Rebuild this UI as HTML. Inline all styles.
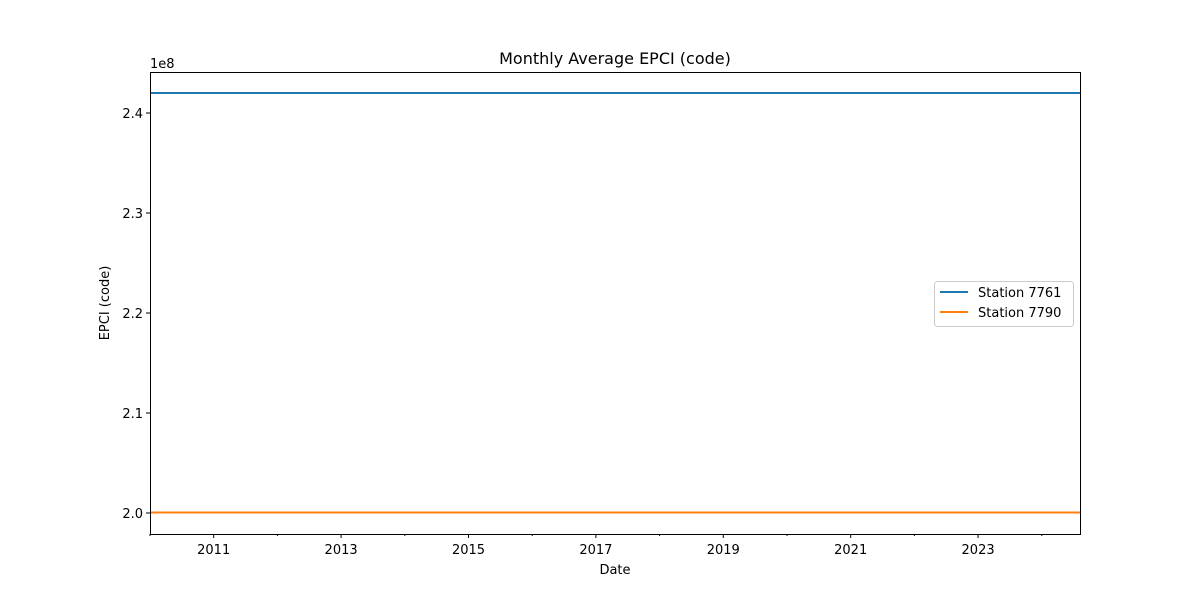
<!DOCTYPE html>
<html><head><meta charset="utf-8"><style>
body{margin:0;background:#fff;}
svg{font-family:"DejaVu Sans","Liberation Sans",sans-serif;}
</style></head><body>
<svg id="chart" width="1200" height="600" xmlns="http://www.w3.org/2000/svg">
<rect width="1200" height="600" fill="#fff"/>
<text x="615" y="64" font-size="16" text-anchor="middle">Monthly Average EPCI (code)</text>
<text x="615" y="574" font-size="13" text-anchor="middle">Date</text>
<text x="0" y="0" font-size="13" text-anchor="middle" transform="translate(109,303) rotate(-90)">EPCI (code)</text>
<text x="150" y="68" font-size="13">1e8</text>
<g id="grid"></g>
<g id="series"></g>
<rect x="150.5" y="72.5" width="930" height="462" fill="none" stroke="#000" stroke-width="1"/>
<g>
<rect x="934.5" y="281.5" width="139" height="45" rx="3" fill="#fff" stroke="#ccc"/>
<line x1="940" y1="292" x2="968" y2="292" stroke="#1f77b4" stroke-width="2"/>
<text x="978" y="297" font-size="13">Station 7761</text>
<line x1="940" y1="312" x2="968" y2="312" stroke="#ff7f0e" stroke-width="2"/>
<text x="978" y="317" font-size="13">Station 7790</text>
</g>
</svg>
<script>
const stations = ["7761", "7790"];
const stationValues = [242000000, 200050000];
const dateRange = [2010.0, 2024.625];
const yTicks = [2.0e8, 2.1e8, 2.2e8, 2.3e8, 2.4e8];
const yTickLabels = ["2.0", "2.1", "2.2", "2.3", "2.4"];
const xTicks = [2011, 2013, 2015, 2017, 2019, 2021, 2023];
const xMinorTicks = [2010, 2012, 2014, 2016, 2018, 2020, 2022, 2024];
const colors = ["#1f77b4", "#ff7f0e"];

const L = 150, R = 1080, T = 72, B = 534;
const yMin = 1.979e8, yMax = 2.441e8;
const xMin = 2010.0, xMax = 2024.6;
const xs = v => L + (v - xMin) / (xMax - xMin) * (R - L);
const ys = v => B - (v - yMin) / (yMax - yMin) * (B - T);
const NS = "http://www.w3.org/2000/svg";
const g = document.getElementById("grid");
const s = document.getElementById("series");
function mk(tag, attrs, parent) {
  const el = document.createElementNS(NS, tag);
  for (const k in attrs) el.setAttribute(k, attrs[k]);
  parent.appendChild(el);
  return el;
}
yTicks.forEach((v, i) => {
  const y = ys(v);
  const t = mk("line", {x1: L - 4, x2: L, y1: y, y2: y, stroke: "#000"}, g);
  
  
  const tx = mk("text", {x: L - 7, y: y + 5, "font-size": 13, "text-anchor": "end"}, g);
  tx.textContent = yTickLabels[i];
  
  
});
xTicks.forEach(v => {
  const x = xs(v);
  const t = mk("line", {x1: x, x2: x, y1: B, y2: B + 4, stroke: "#000"}, g);
  
  
  const tx = mk("text", {x: x, y: B + 20, "font-size": 13, "text-anchor": "middle"}, g);
  tx.textContent = String(v);
  
  
});
xMinorTicks.forEach(v => {
  const x = xs(v);
  const t = mk("line", {x1: x, x2: x, y1: B, y2: B + 2, stroke: "#000"}, g);
  
  
});
stations.forEach((st, i) => {
  const y = ys(stationValues[i]);
  const ln = mk("line", {x1: xs(dateRange[0]), x2: Math.min(R, xs(dateRange[1])), y1: y, y2: y, stroke: colors[i], "stroke-width": 2}, s);
  
  
});
</script>
</body></html>
